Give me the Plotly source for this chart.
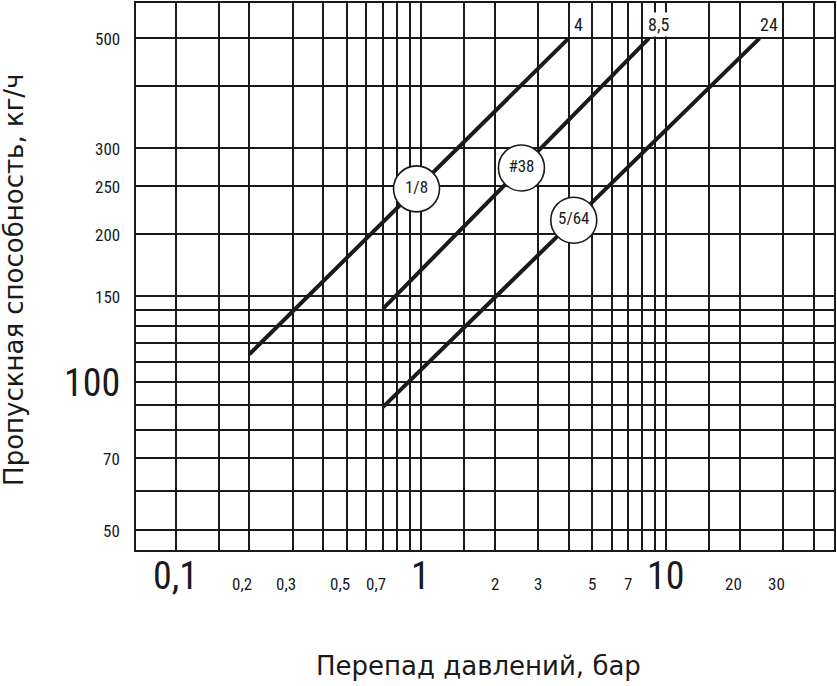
import numpy as np
import plotly.graph_objects as go

# Пропускная способность при перепаде давлений (бар -> кг/ч)
series_names = ["1/8", "#38", "5/64"]
dp_start = [0.2, 0.7, 0.7]
dp_end = [4, 8.5, 24]
flow_start = [114, 141, 89]
flow_end = [500, 500, 500]
end_labels = ["4", "8,5", "24"]
badge_dp = [0.96, 2.57, 4.2]

x_grid = [0.1, 0.15, 0.2, 0.3, 0.4, 0.5, 0.6, 0.7, 0.8, 0.9,
          1, 1.5, 2, 3, 4, 5, 6, 7, 8, 9, 10, 15, 20, 30, 40]
y_grid = [50, 60, 70, 80, 90, 100, 110, 120, 130, 140, 150,
          200, 250, 300, 400, 500]

x_tick_vals = [0.1, 0.2, 0.3, 0.5, 0.7, 1, 2, 3, 5, 7, 10, 20, 30]
x_tick_text = ["0,1", "0,2", "0,3", "0,5", "0,7", "1", "2", "3", "5", "7", "10", "20", "30"]
y_tick_vals = [50, 70, 100, 150, 200, 250, 300, 500]
y_tick_text = ["50", "70", "100", "150", "200", "250", "300", "500"]
major_ticks = [0.1, 1, 10, 100]

NARROW = "Liberation Sans Narrow, Roboto Condensed, Liberation Sans, Arial, sans-serif"
TITLE = "DejaVu Sans, sans-serif"
INK = "#1a1a1a"

fig = go.Figure()

for name, x0, x1, y0, y1 in zip(series_names, dp_start, dp_end, flow_start, flow_end):
    fig.add_trace(go.Scatter(
        x=[x0, x1], y=[y0, y1], mode="lines", name=name,
        line=dict(color=INK, width=4), hoverinfo="skip",
    ))

# кружки с обозначениями, посаженные на свою линию
for name, bx, x0, x1, y0, y1 in zip(series_names, badge_dp, dp_start, dp_end, flow_start, flow_end):
    t = (np.log10(bx) - np.log10(x0)) / (np.log10(x1) - np.log10(x0))
    by = 10 ** (np.log10(y0) + t * (np.log10(y1) - np.log10(y0)))
    fig.add_trace(go.Scatter(
        x=[bx], y=[by], mode="markers+text", text=[name],
        textposition="middle center",
        textfont=dict(family=NARROW, size=17, color=INK),
        marker=dict(size=46, color="white", line=dict(color=INK, width=1.6)),
        hoverinfo="skip",
    ))

annotations = []
for lbl, x1, y1 in zip(end_labels, dp_end, flow_end):
    annotations.append(dict(
        x=np.log10(x1), y=np.log10(y1), xref="x", yref="y", text=lbl,
        showarrow=False, xanchor="center", yanchor="bottom", xshift=10, yshift=1,
        bgcolor="white", borderpad=1,
        font=dict(family=NARROW, size=18, color=INK),
    ))

for v, t in zip(x_tick_vals, x_tick_text):
    big = v in major_ticks
    annotations.append(dict(
        x=np.log10(v), y=0, xref="x", yref="paper", text=t, showarrow=False,
        xanchor="center", yanchor="middle",
        yshift=-26 if big else -34,
        xshift=0 if (big or len(t) == 1) else -7,
        font=dict(family=NARROW, size=38 if big else 17, color=INK),
    ))

for v, t in zip(y_tick_vals, y_tick_text):
    big = v in major_ticks
    annotations.append(dict(
        x=0, y=np.log10(v), xref="paper", yref="y", text=t, showarrow=False,
        xanchor="right", yanchor="middle", xshift=-14, yshift=-1,
        font=dict(family=NARROW, size=38 if big else 17, color=INK),
    ))

annotations.append(dict(
    x=0.491, y=-0.212, xref="paper", yref="paper", text="Перепад давлений, бар",
    showarrow=False, xanchor="center", yanchor="middle",
    font=dict(family=TITLE, size=26, color=INK),
))
annotations.append(dict(
    x=-0.174, y=0.493, xref="paper", yref="paper", text="Пропускная способность, кг/ч",
    showarrow=False, xanchor="center", yanchor="middle", textangle=-90,
    font=dict(family=TITLE, size=26, color=INK),
))

axis_common = dict(
    type="log", showgrid=True, gridcolor=INK, gridwidth=1.6,
    showline=True, linecolor=INK, linewidth=2, mirror=True,
    showticklabels=False, ticks="", zeroline=False, tickmode="array",
)

fig.update_layout(
    width=837, height=686,
    margin=dict(l=136, r=1, t=2, b=136),
    paper_bgcolor="white", plot_bgcolor="white",
    showlegend=False,
    xaxis=dict(axis_common, tickvals=x_grid, range=[np.log10(0.069), np.log10(48.3)]),
    yaxis=dict(axis_common, tickvals=y_grid, range=[np.log10(45.6), np.log10(590)]),
    annotations=annotations,
)

fig.write_html(
    "out.html",
    config={"displayModeBar": False},
    post_script="document.body.style.margin='0';",
)
